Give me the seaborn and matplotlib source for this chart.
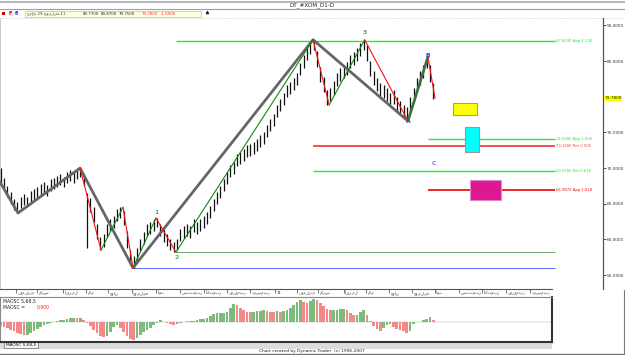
import numpy as np
import pandas as pd
import matplotlib
matplotlib.use("Agg")
import matplotlib.pyplot as plt
import matplotlib.transforms as mtransforms
from matplotlib.patches import Rectangle
import seaborn as sns

sns.set_theme(style="white")
plt.rcParams['font.family'] = ['DejaVu Sans']

# ---------------- data ----------------
bar_start = 5          # trading-day index of first bar (0 = 4 Jan 2010)
bar_step = 3           # trading days per drawn bar
highs = [70.0, 68.6, 67.5, 66.7, 65.6, 65.2, 66.0, 66.4, 66.0, 66.8,
         67.0, 67.3, 67.8, 68.0, 67.6, 68.4, 68.6, 68.9, 69.1, 68.8,
         69.4, 69.7, 69.4, 69.9, 70.0, 69.2, 66.5, 65.8, 64.5, 62.2,
         60.4, 60.8, 62.2, 62.9, 63.3, 64.2, 64.5, 64.0, 61.2, 58.5,
         57.7, 58.8, 60.1, 61.1, 62.1, 62.5, 62.8, 63.0, 62.2, 61.4,
         60.8, 60.0, 59.6, 60.1, 61.5, 61.9, 62.2, 61.9, 62.8, 62.5,
         62.9, 63.3, 63.9, 64.7, 65.7, 66.7, 67.5, 68.5, 69.5, 70.4,
         70.9, 72.0, 72.3, 72.7, 73.2, 73.4, 73.7, 74.1, 74.6, 75.1,
         76.0, 76.9, 77.6, 78.8, 79.7, 80.5, 81.6, 82.1, 82.6, 83.3,
         84.7, 85.8, 86.8, 87.7, 88.0, 86.4, 84.2, 82.8, 80.9, 81.3,
         82.2, 83.3, 84.0, 84.4, 84.9, 85.8, 86.3, 86.8, 87.5, 88.0,
         87.2, 85.0, 83.6, 82.7, 82.0, 81.7, 81.3, 80.6, 80.9, 79.9,
         79.4, 78.9, 78.5, 79.9, 81.3, 82.7, 83.6, 84.5, 85.6, 84.4,
         82.0]
lows = [67.9, 66.9, 65.9, 65.0, 64.1, 63.7, 64.4, 64.8, 64.5, 65.2,
        65.5, 65.8, 66.2, 66.5, 66.1, 66.8, 67.1, 67.3, 67.6, 67.3,
        67.9, 68.2, 67.9, 68.5, 68.8, 67.5, 58.8, 63.9, 62.4, 60.0,
        58.5, 59.0, 60.4, 61.2, 61.6, 62.6, 63.0, 62.0, 58.8, 56.6,
        56.0, 57.0, 58.3, 59.4, 60.5, 60.8, 61.2, 61.7, 60.5, 59.7,
        59.1, 58.5, 58.2, 58.5, 59.8, 60.2, 60.5, 60.2, 61.1, 60.8,
        61.2, 61.6, 62.2, 63.0, 64.0, 65.0, 65.8, 66.8, 67.8, 68.7,
        69.2, 70.3, 70.6, 71.0, 71.5, 71.7, 72.0, 72.4, 72.9, 73.4,
        74.3, 75.2, 75.9, 77.1, 78.0, 78.8, 79.9, 80.4, 80.9, 81.6,
        83.0, 84.1, 85.1, 86.0, 86.5, 84.2, 82.1, 80.7, 78.8, 79.4,
        80.3, 81.5, 82.2, 82.6, 83.1, 84.0, 84.5, 85.0, 85.7, 86.5,
        85.0, 82.9, 81.7, 80.8, 80.1, 79.8, 79.4, 78.7, 79.0, 78.0,
        77.5, 77.0, 76.6, 77.9, 79.4, 80.8, 81.7, 82.6, 84.0, 82.1,
        79.75]
maosc = [-4, -5, -6, -8, -9, -11, -12, -13, -13, -11,
         -9, -7, -5, -3, -1.5, -0.5, 0.5, 1, 2, 2.5,
         3.5, 4, 4.5, 4, 4.5, 2, -1, -4, -8, -11,
         -14, -15, -14, -10, -5, -3, -6, -10, -14, -17,
         -18, -16, -13, -10, -8, -6, -3, -0.5, 2, 0.5,
         -1, -2, -2.5, -2, -0.5, 0.5, 1, 1.5, 1.5, 2.5,
         3, 3, 4, 6, 8, 9, 9, 9.5, 10, 14,
         18, 17, 14, 12, 10.5, 10, 10, 11, 11.5, 12,
         11, 10.5, 10, 11, 10.5, 11, 12, 14, 17, 20,
         22, 20, 19, 21, 23, 22, 19, 16, 13, 12,
         12, 12.5, 13, 13, 12.5, 9, 7, 7, 10, 12.5,
         7, 1, -4, -7, -9, -6, -3, -2, -5, -7,
         -8, -9, -10.5, -9, -2, 0, 0.5, 2, 3, 5,
         2.5]

# zigzag swing pivots (trading-day index, price)
gray_days = [4.5, 20.7, 76.6, 124.3, 286.5, 372.0, 390.0]
gray_prices = [68.05, 63.7, 70.0, 56.0, 88.0, 76.6, 85.6]
swing_days = [76.6, 95.5, 115.3, 124.3, 145.0, 163.0, 286.5, 301.0, 333.0, 372.0, 390.0, 396.4]
swing_prices = [70.0, 58.5, 64.5, 56.0, 63.0, 58.2, 88.0, 78.85, 88.0, 76.6, 85.6, 79.78]

# projection levels
level_prices = [87.83, 74.03, 73.13, 69.56, 66.99, 58.2, 56.0]
level_start = [163.0, 390.0, 286.5, 286.5, 390.0, 163.0, 124.3]
level_end = 504.5
level_colors = ['#22ee22', '#22ee22', '#ee4444', '#22ee22', '#ee1111', '#6aa96a', '#6666ff']
level_widths = [1.0, 1.0, 1.3, 1.0, 1.3, 0.7, 0.7]
level_texts = ['87.8030 App 4.236', '74.0280 App 1.000', '73.1280 Ret 0.500',
               '69.5580 Ret 0.618', '66.9872 App 1.618', '', '']

# time/price boxes
box_d0 = [412.6, 423.4, 427.9]
box_d1 = [434.2, 436.0, 455.9]
box_lo = [77.45, 72.26, 65.53]
box_hi = [79.13, 75.76, 68.33]
box_face = ['#ffff00', '#00ffff', '#dd1890']
box_edge = ['#aaaa44', '#999999', '#dd88cc']

# pivot labels
plab_text = ['1', '2', '3', 'A', 'B', 'C']
plab_day = [145.5, 163.5, 333.5, 372.0, 390.0, 395.5]
plab_price = [63.7, 57.4, 89.0, 76.5, 85.8, 70.7]
plab_color = ['#55aa55', '#55aa55', '#6b8f6b', '#3344dd', '#3344dd', '#7777ee']

# price axis
price_ticks = [55, 60, 65, 70, 75, 80, 85, 90]
last_price = 79.78

# header quote
quote_date = 'جمعة 29-جويلية-11'
quote_values = ['80.7700', '80.8700', '79.7500', '79.7800', '-1.6900']
quote_colors = ['#222222', '#222222', '#222222', '#ff3333', '#ff3333']

# month axis
month_days = [19, 38, 61, 82, 102, 123, 145, 167, 188, 209, 230, 252,
              272, 291, 314, 334, 355, 376, 396, 418, 439, 460, 482]
month_labels = ['فيفري', 'مارس', 'أفريل', 'ماي', 'جوان', 'جويلية', 'أوت',
                'سبتمبر', 'أكتوبر', 'نوفمبر', 'ديسمبر', '11',
                'فيفري', 'مارس', 'أفريل', 'ماي', 'جوان', 'جويلية', 'أوت',
                'سبتمبر', 'أكتوبر', 'نوفمبر', 'ديسمبر']

# ---------------- figure ----------------
W, H = 625, 355
fig = plt.figure(figsize=(W / 100, H / 100), dpi=100, facecolor='white')


def px_axes(x0, y0, x1, y1, **kw):
    return fig.add_axes([x0 / W, 1 - y1 / H, (x1 - x0) / W, (y1 - y0) / H], **kw)


# chrome / background layer
bg = px_axes(0, 0, W, H)
bg.set_xlim(0, W)
bg.set_ylim(H, 0)
bg.axis('off')
bg.add_patch(Rectangle((0, 1), W, 1.6, color='#b8b8b8', lw=0))
bg.plot([0, W], [9.2, 9.2], color='#a0a0a0', lw=0.8)
bg.text(312, 5.6, 'DT_#XOM_D1-D', fontsize=4.1, ha='center', va='center', color='#222222')
bg.add_patch(Rectangle((2, 12), 3.0, 3.0, color='#dd0000', lw=0))
bg.text(10.5, 13.6, 'F', fontsize=3.8, color='#cc0000', ha='center', va='center', fontweight='bold')
bg.text(17.5, 13.6, 'fi', fontsize=3.8, color='#2233cc', ha='center', va='center', fontweight='bold')
bg.add_patch(Rectangle((25, 10.5), 176, 6.3, facecolor='#ffffe0', edgecolor='#c8c8c8', lw=0.6))
bg.text(27, 13.7, quote_date, fontsize=2.8, va='center', ha='left', color='#333333')
for xq, v, c in zip([83, 101, 119, 142, 161], quote_values, quote_colors):
    bg.text(xq, 13.7, v, fontsize=2.9, va='center', ha='left', color=c)
bg.text(207, 13.6, '♠', fontsize=4.0, va='center', ha='center', color='#111111')
bg.plot([0, W], [17.6, 17.6], color='#c8c8c8', lw=0.5, ls=(0, (1, 1)))
bg.add_patch(Rectangle((0, 342), 552, 6.5, facecolor='#dcdcdc', edgecolor='none'))
bg.add_patch(Rectangle((4, 342.3), 34, 5.6, facecolor='#f4f4f4', edgecolor='#666666', lw=0.5))
bg.text(21, 345.2, 'MAOSC 5,68,5', fontsize=3.1, ha='center', va='center', color='#111111')
bg.text(312, 351.4, 'Chart created by Dynamic Trader  (c) 1996-2007', fontsize=3.2,
        ha='center', va='center', color='#222222')
bg.plot([0, W], [354.2, 354.2], color='#777777', lw=1.0)
bg.plot([623.8, 623.8], [290, 355], color='#777777', lw=0.8)

# ---------------- main price panel ----------------
ax = px_axes(0, 18, 603, 289)
ax.set_facecolor('none')
ax.set_xlim(4.5, 547.7)
ax.set_ylim(53.04, 91.05)
for s in ['top', 'bottom']:
    ax.spines[s].set_visible(False)
ax.spines['left'].set_color('#c0c0c0')
ax.spines['left'].set_linewidth(0.6)
ax.spines['right'].set_color('#555555')
ax.spines['right'].set_linewidth(0.9)

days = bar_start + bar_step * np.arange(len(highs))
bars = pd.DataFrame({'day': days, 'high': highs, 'low': lows})

# levels
for p, s0, c, lw, t in zip(level_prices, level_start, level_colors, level_widths, level_texts):
    ax.hlines(p, s0, level_end, color=c, lw=lw, zorder=2)
    if t:
        ax.text(level_end + 1.0, p, t, fontsize=2.7, color=c, va='center', ha='left', zorder=5)

# boxes
for d0, d1, lo, hi, fc, ec in zip(box_d0, box_d1, box_lo, box_hi, box_face, box_edge):
    ax.add_patch(Rectangle((d0, lo), d1 - d0, hi - lo, facecolor=fc, edgecolor=ec, lw=0.8, zorder=3))

# OHLC bars
ax.vlines(bars['day'], bars['low'], bars['high'], color='#111111', lw=0.9, zorder=4)

# gray swing
gray_df = pd.DataFrame({'day': gray_days, 'price': gray_prices})
sns.lineplot(data=gray_df, x='day', y='price', ax=ax, color='#666666', lw=2.0,
             sort=False, estimator=None, zorder=5)

# coloured swing segments
for i in range(len(swing_days) - 1):
    seg = pd.DataFrame({'day': swing_days[i:i + 2], 'price': swing_prices[i:i + 2]})
    col = '#ff1111' if swing_prices[i + 1] < swing_prices[i] else '#118811'
    sns.lineplot(data=seg, x='day', y='price', ax=ax, color=col, lw=0.8,
                 sort=False, estimator=None, zorder=6)

for t, d, p, c in zip(plab_text, plab_day, plab_price, plab_color):
    ax.text(d, p, t, fontsize=4.4, color=c, ha='center', va='center', fontweight='bold', zorder=7)

ax.set_xlabel('')
ax.set_ylabel('')
ax.set_xticks([])
ax.yaxis.tick_right()
ax.set_yticks(price_ticks)
ax.set_yticklabels(['' if abs(v - last_price) < 1.5 else f'{v:.4f}' for v in price_ticks])
ax.tick_params(axis='y', which='both', right=True, length=2, width=0.6, pad=0.5,
               labelsize=3.1, colors='#333333')
trans = mtransforms.blended_transform_factory(ax.transAxes, ax.transData)
ax.text(1.0025, last_price, f'{last_price:.4f}', transform=trans, fontsize=3.1, va='center', ha='left',
        color='#222222', bbox=dict(boxstyle='square,pad=0.1', facecolor='#ffff00', edgecolor='none'), zorder=8)

# ---------------- month axis ----------------
dax = px_axes(0, 289, 552, 297)
dax.set_facecolor('none')
dax.set_xlim(4.5, 501.8)
dax.set_ylim(0, 1)
for s in ['bottom', 'left', 'right']:
    dax.spines[s].set_visible(False)
dax.spines['top'].set_color('#555555')
dax.spines['top'].set_linewidth(0.8)
dax.set_yticks([])
dax.xaxis.tick_top()
dax.set_xticks(month_days)
dax.set_xticklabels([])
dax.tick_params(axis='x', direction='in', length=3, width=0.5, colors='#444444')
for d, lab in zip(month_days, month_labels):
    dax.text(d + 1.5, 0.45, lab, fontsize=3.0, ha='left', va='center', color='#333333')

# ---------------- MAOSC panel ----------------
oax = px_axes(0, 297, 552, 341.5)
oax.set_facecolor('white')
oax.set_xlim(4.5, 501.8)
oax.set_ylim(-19.5, 25)
cols = ['#7dbb7d' if (i > 0 and maosc[i] >= maosc[i - 1]) else '#f38a8a' for i in range(len(maosc))]
oax.bar(days, maosc, width=2.4, color=cols, linewidth=0, zorder=2)
oax.axhline(0, color='#aaaaaa', lw=0.3, zorder=1)
oax.set_xticks([])
oax.set_yticks([])
for s in ['top', 'left']:
    oax.spines[s].set_color('#888888')
    oax.spines[s].set_linewidth(0.8)
for s in ['bottom', 'right']:
    oax.spines[s].set_color('#333333')
    oax.spines[s].set_linewidth(1.5)
oax.text(0.006, 0.9, 'MAOSC 5,68,5', transform=oax.transAxes, fontsize=3.3, va='center', ha='left', color='#222222')
oax.text(0.006, 0.76, 'MAOSC =', transform=oax.transAxes, fontsize=3.3, va='center', ha='left', color='#222222')
oax.text(0.066, 0.76, '0.900', transform=oax.transAxes, fontsize=3.3, va='center', ha='left', color='#ff2222')

fig.savefig('out.png', dpi=100, facecolor='white')
